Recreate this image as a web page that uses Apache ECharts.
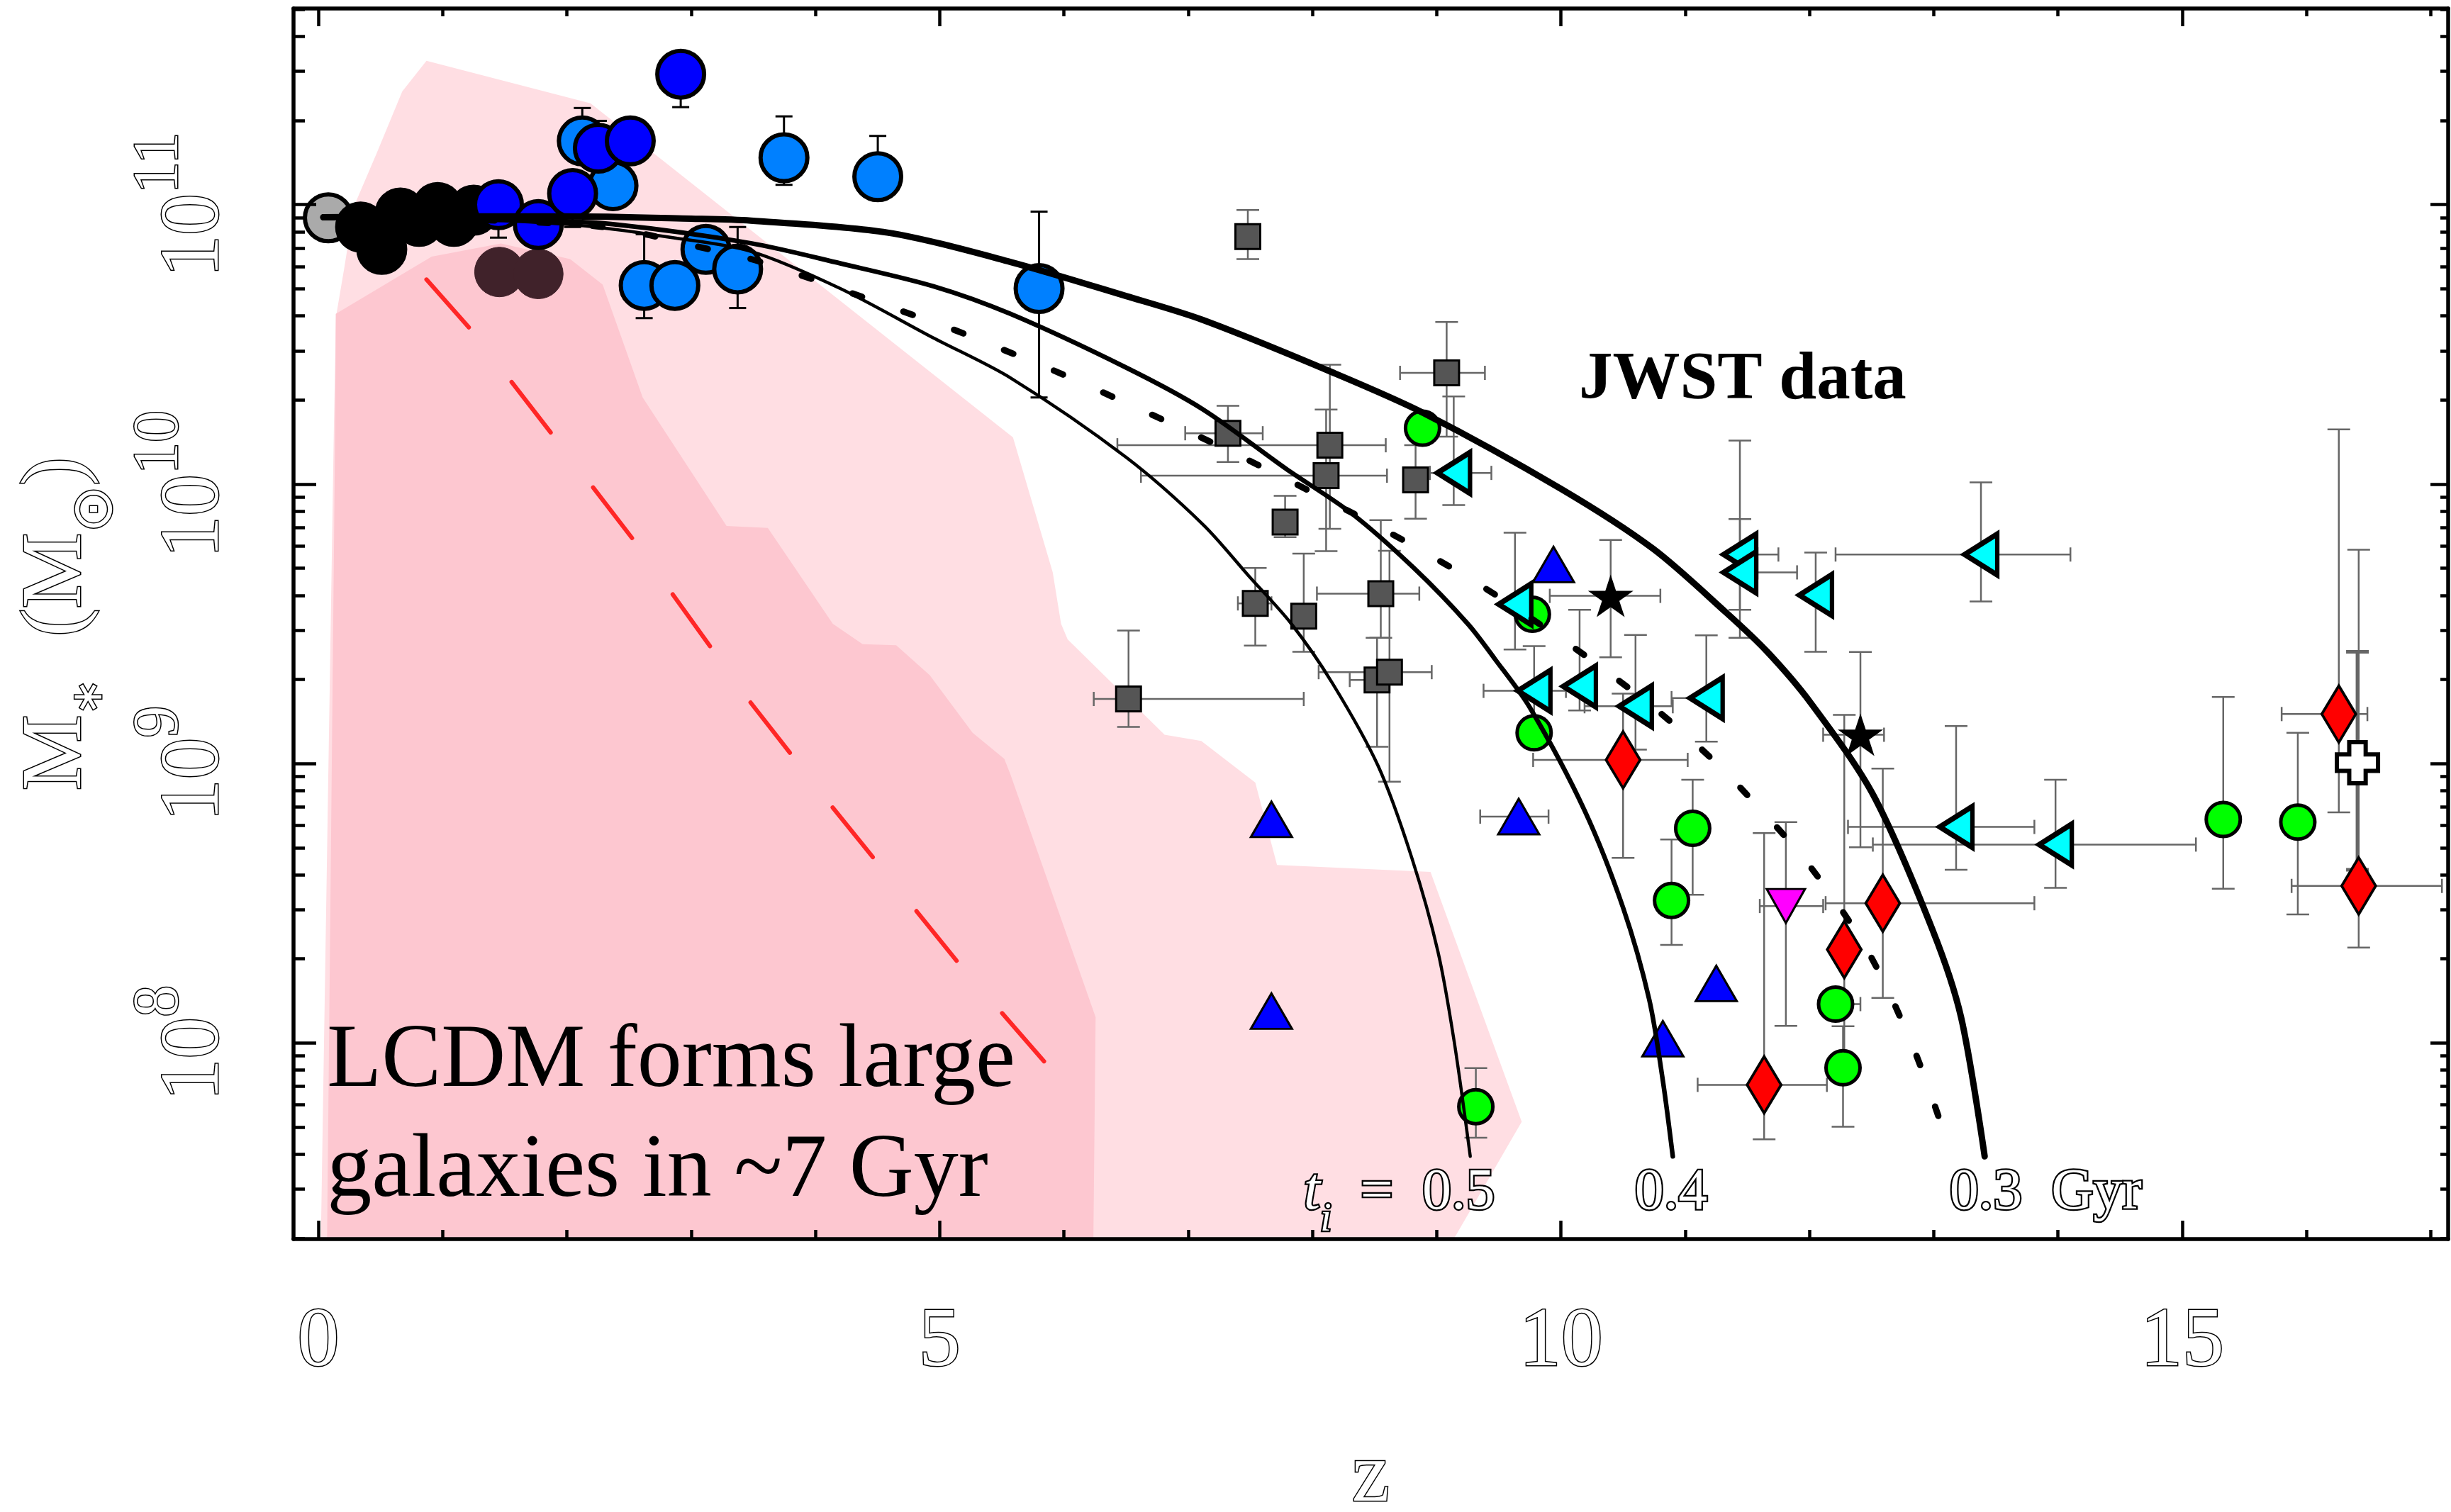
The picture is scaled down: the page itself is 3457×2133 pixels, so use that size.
<!DOCTYPE html>
<html>
<head>
<meta charset="utf-8">
<title>Stellar mass versus redshift</title>
<script src="https://cdn.jsdelivr.net/npm/echarts@6/dist/echarts.min.js"></script>
<style>
  html, body { margin: 0; padding: 0; background: #fff; }
  #chart { width: 3457px; height: 2133px; }
</style>
</head>
<body>
<div id="chart"></div>
<script>
// ---- axis ticks (x = redshift z, y = log10 of stellar mass) ----
const xMajorTicks = [0, 5, 10, 15];
const xMinorTicks = [0, 1, 2, 3, 4, 5, 6, 7, 8, 9, 10, 11, 12, 13, 14, 15, 16, 17];
const yMajorTicks = [8, 9, 10, 11];

// ---- point samples: [z, log10 M, zLow, zHigh, logMLow, logMHigh] ----
const grayCircle = [[0.08, 10.953]];
const blackCircles = [
  [0.34, 10.92], [0.51, 10.84], [0.66, 10.97], [0.81, 10.94],
  [0.96, 10.99], [1.09, 10.94], [1.25, 10.98]
];
const brownCircles = [[1.457, 10.759], [1.77, 10.752]];
const lightBlueCircles = [
  [2.124, 11.228, null, null, null, 11.346],
  [2.371, 11.068, null, null, null, null],
  [2.622, 10.711, null, null, 10.594, 10.894],
  [2.869, 10.711, null, null, null, null],
  [3.119, 10.84, null, null, null, null],
  [3.374, 10.77, null, null, 10.63, 10.92],
  [3.747, 11.168, null, null, 11.071, 11.316],
  [4.502, 11.10, null, null, null, 11.246],
  [5.80, 10.70, null, null, 10.31, 10.975]
];
const blueCircles = [
  [1.449, 11.0, null, null, 10.882, null],
  [1.77, 10.929, null, null, null, null],
  [2.046, 11.04, null, null, 10.92, null],
  [2.253, 11.202, null, null, null, 11.30],
  [2.51, 11.228, null, null, null, null],
  [2.916, 11.467, null, null, 11.349, null]
];
const graySquares = [
  [7.48, 10.886, null, null, 10.805, 10.981],
  [9.08, 10.398, 8.705, 9.388, 10.17, 10.58],
  [7.32, 10.182, 6.976, 7.60, 10.079, 10.28],
  [8.14, 10.139, 6.43, 8.59, 9.84, 10.427],
  [8.11, 10.03, 6.62, 8.60, 9.76, 10.267],
  [8.83, 10.015, null, null, 9.876, 10.139],
  [7.78, 9.864, null, null, 9.81, 9.958],
  [7.54, 9.573, 7.40, 7.67, 9.422, 9.70],
  [7.93, 9.527, null, null, 9.40, 9.751],
  [8.55, 9.608, 8.036, 8.86, 9.45, 9.871],
  [8.52, 9.299, 8.30, null, 9.06, 9.45],
  [8.62, 9.327, 8.05, 8.96, 8.935, 9.761],
  [6.52, 9.231, 6.24, 7.93, 9.131, 9.476]
];
const greenCircles = [
  [8.886, 10.20, null, null, null, null],
  [9.77, 9.534, null, null, null, null],
  [9.784, 9.11, null, null, null, null],
  [11.06, 8.768, null, null, 8.53, 8.942],
  [10.89, 8.51, null, null, 8.351, 8.728],
  [9.315, 7.772, null, null, 7.661, 7.91],
  [12.21, 8.139, null, 12.41, null, null],
  [12.27, 7.911, null, null, 7.70, 8.06],
  [15.33, 8.80, null, null, 8.552, 9.238],
  [15.93, 8.79, null, null, 8.46, 9.11]
];
const cyanTriangles = [
  [9.137, 10.04, 8.945, 9.44, 9.925, 10.314],
  [9.63, 9.57, null, null, 9.408, 9.826],
  [9.784, 9.26, 9.377, 10.04, 9.12, 9.42],
  [10.15, 9.276, null, null, 9.19, 9.55],
  [10.60, 9.205, 10.19, 10.9, 9.05, 9.46],
  [11.17, 9.234, 10.89, null, 9.078, 9.459],
  [11.44, 9.748, null, 11.75, 9.55, 10.156],
  [11.44, 9.684, null, 11.90, 9.45, 9.875],
  [12.05, 9.603, null, null, 9.40, 9.755],
  [13.38, 9.748, 12.21, 14.10, 9.58, 10.006],
  [13.18, 8.773, 12.31, 13.81, 8.62, 9.134],
  [13.98, 8.71, 12.51, 15.11, 8.555, 8.942]
];
const blueTriangles = [
  [7.67, 8.80, null, null, null, null],
  [7.67, 8.114, null, null, null, null],
  [9.66, 8.81, 9.35, 9.90, null, null],
  [9.94, 9.712, null, null, null, null],
  [10.82, 8.015, null, null, null, null],
  [11.25, 8.213, null, null, null, null]
];
const blackStars = [
  [10.40, 9.60, 9.91, 10.80, 9.38, 9.80],
  [12.41, 9.103, 12.11, 12.60, 8.70, 9.399]
];
const redDiamonds = [
  [10.50, 9.013, 9.776, 11.02, 8.662, 9.25],
  [12.59, 8.50, 12.13, 13.81, 8.161, 8.982],
  [12.28, 8.334, null, null, 7.95, 9.174],
  [11.635, 7.85, 11.10, 12.14, 7.655, 8.751],
  [16.26, 9.177, 15.80, 16.49, 8.825, 10.196],
  [16.42, 8.562, 15.88, 17.09, 8.341, 9.765]
];
const magentaTriangle = [[11.81, 8.49, 11.60, 12.11, 8.061, 8.79]];
const whiteCross = [[16.41, 9.003, null, null, 8.62, 9.40]];

// ---- model tracks: [z, log10 M] ----
const track05 = [
  [0.04, 10.955], [1.0, 10.948], [1.6, 10.94], [2.19, 10.922], [2.8, 10.885],
  [3.48, 10.833], [4.2, 10.70], [4.95, 10.523], [5.57, 10.38], [6.5, 10.096],
  [7.12, 9.855], [7.49, 9.67], [7.83, 9.50], [8.16, 9.288], [8.53, 8.99],
  [8.80, 8.662], [9.01, 8.327], [9.14, 8.007], [9.27, 7.594]
];
const track04 = [
  [0.04, 10.955], [1.0, 10.952], [1.7, 10.945], [2.37, 10.93], [3.48, 10.862],
  [4.2, 10.79], [4.95, 10.708], [5.57, 10.609], [6.5, 10.417], [7.12, 10.267],
  [7.79, 10.054], [8.31, 9.897], [8.82, 9.698], [9.25, 9.50], [9.47, 9.373],
  [9.75, 9.20], [10.19, 8.832], [10.50, 8.484], [10.71, 8.156], [10.82, 7.865],
  [10.90, 7.594]
];
const track03 = [
  [0.04, 10.955], [1.0, 10.958], [2.0, 10.958], [3.0, 10.95], [3.48, 10.943],
  [4.58, 10.90], [5.57, 10.795], [6.5, 10.673], [7.12, 10.587], [8.16, 10.40],
  [8.90, 10.253], [10.0, 9.983], [10.74, 9.769], [11.33, 9.54], [11.66, 9.40],
  [12.01, 9.217], [12.51, 8.89], [12.99, 8.405], [13.22, 8.092], [13.41, 7.594]
];
const track03Dotted = [
  [0.04, 10.955], [1.0, 10.95], [2.19, 10.925], [2.63, 10.894], [3.05, 10.85],
  [3.46, 10.808], [3.86, 10.751], [4.27, 10.687], [4.69, 10.62], [5.10, 10.555],
  [5.50, 10.483], [5.90, 10.41], [6.70, 10.25], [7.47, 10.089], [8.62, 9.826],
  [9.38, 9.63], [10.10, 9.416], [10.45, 9.302], [10.78, 9.188], [11.11, 9.06],
  [11.42, 8.925], [11.99, 8.64], [12.48, 8.32], [12.85, 7.967], [13.135, 7.61]
];
const lcdmTrack = [
  [0.87, 10.732], [1.235, 10.549], [1.892, 10.172], [2.545, 9.795],
  [3.477, 9.219], [4.14, 8.842], [5.155, 8.284], [5.856, 7.926]
];

// ---- LCDM bands: outline vertices [z, log10 M] ----
const lcdmOuterBand = [
  [0.02, 7.298], [0.125, 10.211], [0.142, 10.60], [0.207, 10.77], [0.289, 10.997],
  [0.469, 11.184], [0.675, 11.405], [0.87, 11.515], [2.19, 11.363], [5.59, 10.167],
  [5.91, 9.684], [5.977, 9.50], [6.03, 9.444], [6.81, 9.103], [7.105, 9.081],
  [7.54, 8.932], [7.715, 8.637], [8.95, 8.612], [9.684, 7.718], [9.137, 7.298]
];
const lcdmInnerBand = [
  [0.07, 7.298], [0.135, 10.2], [0.14, 10.609], [0.912, 10.814], [1.469, 10.861],
  [2.026, 10.805], [2.288, 10.714], [2.61, 10.31], [3.285, 9.85], [3.617, 9.843],
  [4.14, 9.50], [4.38, 9.427], [4.65, 9.423], [4.92, 9.316], [5.265, 9.11],
  [5.52, 9.017], [5.57, 8.96], [6.255, 8.092], [6.237, 7.298]
];

// ---- styling ----
const SERIF = "'Liberation Serif', 'DejaVu Serif', serif";
const hollow = { color: '#ffffff', textBorderColor: '#000000', textBorderWidth: 3 };
const hollowDark = { color: '#ffffff', textBorderColor: '#000000', textBorderWidth: 4.5 };
const X_MIN = -0.2, X_MAX = 17.14, Y_MIN = 7.298, Y_MAX = 11.702;

const yMinorTicks = [];
for (let n = 7; n <= 11; n++) {
  for (let k = 2; k <= 9; k++) {
    const v = n + Math.log10(k);
    if (v > Y_MIN && v < Y_MAX) yMinorTicks.push(v);
  }
}

function tickAxis(position, min, max, ticks, len, showLine) {
  return {
    type: 'value', position, min, max, z: 10,
    axisLine: { show: showLine, onZero: false, lineStyle: { color: '#000', width: 5.5 } },
    axisTick: { show: true, inside: true, length: len, customValues: ticks,
                lineStyle: { color: '#000', width: 4.5 } },
    axisLabel: { show: false },
    splitLine: { show: false }
  };
}

const xBottom = tickAxis('bottom', X_MIN, X_MAX, xMajorTicks, 26, true);
xBottom.axisLabel = {
  show: true, customValues: xMajorTicks, margin: 82,
  fontFamily: SERIF, fontSize: 118, lineHeight: 130, ...hollow
};
xBottom.name = 'z';
xBottom.nameLocation = 'middle';
xBottom.nameGap = 272;
xBottom.nameMoveOverlap = false;
xBottom.nameTextStyle = { fontFamily: SERIF, fontSize: 120, lineHeight: 130, ...hollow };

const yLeft = tickAxis('left', Y_MIN, Y_MAX, yMajorTicks, 32, true);
yLeft.axisLabel = {
  show: true, customValues: yMajorTicks, rotate: 90, margin: 78,
  formatter: v => '{b|10}{e|' + Math.round(v) + '}',
  rich: {
    b: { fontFamily: SERIF, fontSize: 118, lineHeight: 120, ...hollow },
    e: { fontFamily: SERIF, fontSize: 90, lineHeight: 10, padding: [0, 0, 99, 0], ...hollow }
  }
};
yLeft.name = '{m|M}{s|∗}{g|  }{p|(}{m|M}{o|⊙}{p|)}';
yLeft.nameLocation = 'middle';
yLeft.nameRotate = 90;
yLeft.nameGap = 268;
yLeft.nameMoveOverlap = false;
yLeft.nameTextStyle = {
  rich: {
    m: { fontFamily: SERIF, fontSize: 120, lineHeight: 130, ...hollow },
    s: { fontFamily: "'DejaVu Sans', sans-serif", fontSize: 60, lineHeight: 10, padding: [93, 0, 0, 0], ...hollow },
    g: { fontFamily: SERIF, fontSize: 120, lineHeight: 130, ...hollow },
    p: { fontFamily: SERIF, fontSize: 120, lineHeight: 130, ...hollow },
    o: { fontFamily: "'DejaVu Sans', sans-serif", fontSize: 80, lineHeight: 10, padding: [110, 0, 0, 0], ...hollow }
  }
};

// ---- series builders ----
function band(rows, fill) {
  return {
    type: 'custom', z: 1, silent: true, clip: true,
    data: [rows[0]], encode: { x: 0, y: 1 },
    renderItem: (params, api) => ({
      type: 'polygon',
      shape: { points: rows.map(p => api.coord(p)) },
      style: { fill }
    })
  };
}

function errorBars(rows, color, width, capHalf, capHalfX) {
  return {
    type: 'custom', z: 3, silent: true, clip: true,
    data: rows.map(r => [r[0], r[1]]), encode: { x: 0, y: 1 },
    renderItem: (params, api) => {
      const [x, y, xlo, xhi, ylo, yhi] = rows[params.dataIndex];
      const c = api.coord([x, y]);
      const kids = [];
      const seg = (x1, y1, x2, y2) => kids.push({
        type: 'line', shape: { x1, y1, x2, y2 },
        style: { stroke: color, lineWidth: width }
      });
      if (xlo != null) { const p = api.coord([xlo, y]); seg(p[0], c[1], c[0], c[1]); seg(p[0], c[1] - capHalfX, p[0], c[1] + capHalfX); }
      if (xhi != null) { const p = api.coord([xhi, y]); seg(c[0], c[1], p[0], c[1]); seg(p[0], c[1] - capHalfX, p[0], c[1] + capHalfX); }
      if (ylo != null) { const p = api.coord([x, ylo]); seg(c[0], c[1], c[0], p[1]); seg(c[0] - capHalf, p[1], c[0] + capHalf, p[1]); }
      if (yhi != null) { const p = api.coord([x, yhi]); seg(c[0], p[1], c[0], c[1]); seg(c[0] - capHalf, p[1], c[0] + capHalf, p[1]); }
      return { type: 'group', children: kids };
    }
  };
}

function points(rows, symbol, size, fill, stroke, borderWidth, rotate) {
  return {
    type: 'scatter', z: 4, silent: true,
    data: rows.map(r => [r[0], r[1]]),
    symbol, symbolSize: size, symbolRotate: rotate || 0,
    itemStyle: { color: fill, borderColor: stroke, borderWidth, opacity: 1 },
    emphasis: { disabled: true }
  };
}

function track(rows, width, dash, color, smooth) {
  return {
    type: 'line', z: 5, silent: true, data: rows,
    showSymbol: false, symbol: 'none', smooth: smooth == null ? 0.3 : smooth, clip: true,
    lineStyle: { color: color || '#000', width, type: dash || 'solid', cap: 'round', join: 'round' },
    emphasis: { disabled: true }
  };
}

const STAR = 'path://M50,0 L61.2,34.5 L97.6,34.5 L68.2,55.9 L79.4,90.5 L50,69.1 L20.6,90.5 L31.8,55.9 L2.4,34.5 L38.8,34.5 Z';
const PLUS = 'path://M3,0 L7,0 L7,3 L10,3 L10,7 L7,7 L7,10 L3,10 L3,7 L0,7 L0,3 L3,3 Z';

const JWST_ERR = '#666666';

// ---- text notes placed in data coordinates ----
const noteLabel = { show: true, position: [0, 0], align: 'left', verticalAlign: 'bottom', textBorderWidth: 0 };
const notes = {
  type: 'scatter', z: 6, silent: true, symbolSize: 0,
  itemStyle: { color: 'rgba(0,0,0,0)', opacity: 1 },
  label: noteLabel,
  emphasis: { disabled: true },
  data: [
    { value: [0.07, 7.339], label: { ...noteLabel,
        formatter: 'LCDM forms large\ngalaxies in ~7 Gyr',
        fontFamily: SERIF, fontSize: 126, lineHeight: 155.5, color: '#000000', opacity: 1 } },
    { value: [10.144, 10.229], label: { ...noteLabel,
        formatter: 'JWST data',
        fontFamily: SERIF, fontWeight: 'bold', fontSize: 95, lineHeight: 110, color: '#000000', opacity: 1 } },
    { value: [7.93, 7.348], label: { ...noteLabel, opacity: 1,
        formatter: '{t|t}{i|i}{r|  =  0.5}',
        rich: {
          t: { fontFamily: SERIF, fontStyle: 'italic', fontSize: 84, lineHeight: 90, ...hollowDark },
          i: { fontFamily: SERIF, fontStyle: 'italic', fontSize: 56, lineHeight: 10, padding: [75, 0, 0, 0], ...hollowDark },
          r: { fontFamily: SERIF, fontSize: 82, lineHeight: 90, ...hollowDark }
        } } },
    { value: [10.594, 7.348], label: { ...noteLabel, opacity: 1,
        formatter: '{r|0.4}',
        rich: { r: { fontFamily: SERIF, fontSize: 82, lineHeight: 90, ...hollowDark } } } },
    { value: [13.127, 7.348], label: { ...noteLabel, opacity: 1,
        formatter: '{r|0.3  Gyr}',
        rich: { r: { fontFamily: SERIF, fontSize: 82, lineHeight: 90, ...hollowDark } } } }
  ]
};

const chart = echarts.init(document.getElementById('chart'), null,
  { renderer: 'canvas', width: 3457, height: 2133 });

chart.setOption({
  animation: false,
  backgroundColor: '#ffffff',
  textStyle: { fontFamily: SERIF },
  grid: { left: 414, right: 4, top: 12, bottom: 385, containLabel: false, outerBoundsMode: 'none' },
  xAxis: [
    xBottom,
    tickAxis('bottom', X_MIN, X_MAX, xMinorTicks, 13, false),
    tickAxis('top', X_MIN, X_MAX, xMajorTicks, 25, true),
    tickAxis('top', X_MIN, X_MAX, xMinorTicks, 11, false)
  ],
  yAxis: [
    yLeft,
    tickAxis('left', Y_MIN, Y_MAX, yMinorTicks, 16, false),
    tickAxis('right', Y_MIN, Y_MAX, yMajorTicks, 25, true),
    tickAxis('right', Y_MIN, Y_MAX, yMinorTicks, 11, false)
  ],
  series: [
    band(lcdmOuterBand, '#ffdee3'),
    band(lcdmInnerBand, '#fdc7d0'),
    track(lcdmTrack, 6, [90, 98], '#ff2626', 0),

    errorBars(blueCircles, '#000', 3, 12, 10),
    errorBars(lightBlueCircles, '#000', 3, 12, 10),
    errorBars(graySquares, JWST_ERR, 2.5, 16, 10),
    errorBars(greenCircles, JWST_ERR, 2.5, 16, 10),
    errorBars(cyanTriangles, JWST_ERR, 2.5, 16, 10),
    errorBars(blueTriangles, JWST_ERR, 2.5, 16, 10),
    errorBars(blackStars, JWST_ERR, 2.5, 16, 10),
    errorBars(redDiamonds, JWST_ERR, 2.5, 16, 10),
    errorBars(magentaTriangle, JWST_ERR, 2.5, 16, 10),
    errorBars(whiteCross, JWST_ERR, 5, 16, 10),

    points(grayCircle, 'circle', 66, '#aaaaaa', '#000', 6),
    points(blackCircles, 'circle', 66, '#000000', '#000', 6),
    points(brownCircles, 'circle', 70, '#40222a', '#40222a', 1),
    points(lightBlueCircles, 'circle', 66, '#0080ff', '#000', 6),
    points(blueCircles, 'circle', 66, '#0000ff', '#000', 6),
    points(graySquares, 'rect', 35, '#555555', '#000', 3),
    points(greenCircles, 'circle', 48, '#00ff00', '#000', 5),
    points(blueTriangles, 'triangle', [58, 50], '#0000ff', '#000', 3),
    points(cyanTriangles, 'triangle', [58, 46], '#00ffff', '#000', 7, 90),
    points(redDiamonds, 'diamond', [48, 80], '#ff0000', '#000', 4),
    points(magentaTriangle, 'triangle', [54, 48], '#ff00ff', '#000', 3, 180),
    points(blackStars, STAR, [64, 60], '#000000', '#000', 0),
    points(whiteCross, PLUS, [58, 58], '#ffffff', '#000', 6),

    track(track05, 4.5),
    track(track04, 6.5),
    track(track03, 9),
    track(track03Dotted, 9, [14, 62]),

    notes
  ]
});
</script>
</body>
</html>
